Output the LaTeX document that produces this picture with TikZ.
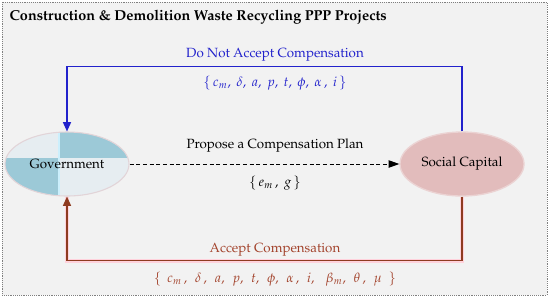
\documentclass[tikz,border=0pt]{standalone}
\usepackage[T1]{fontenc}
\usepackage{amsmath,amssymb}
\usepackage{mathpazo}
\usepackage{xcolor}
\usepackage{tikz}
\usetikzlibrary{arrows.meta,shapes.geometric}

\definecolor{bggray}{HTML}{F2F2F2}
\definecolor{framegray}{HTML}{7F7F7F}
\definecolor{govblue}{HTML}{9CC9D7}
\definecolor{govlight}{HTML}{E6EDF1}
\definecolor{govedge}{HTML}{E2D4D8}
\definecolor{socfill}{HTML}{E2BCBC}
\definecolor{socedge}{HTML}{EBD3D3}
\definecolor{rejblue}{HTML}{2222CC}
\definecolor{acctext}{HTML}{A3432C}
\definecolor{accline}{HTML}{8E3B20}
\definecolor{halopink}{HTML}{FFD2DC}

\begin{document}
\begin{tikzpicture}[
  x=0.75pt, y=-0.75pt,
  frame/.style={draw=framegray, densely dotted, fill=bggray},
  actor/.style={ellipse, minimum width=93pt, minimum height=48pt, inner sep=0pt},
  govnode/.style={actor, draw=govedge, line width=0.8pt},
  socnode/.style={actor, draw=socedge, line width=1pt, fill=socfill},
  lbl/.style={inner sep=1pt},
  rejarr/.style={-{Triangle[length=7pt, width=6pt]}, draw=rejblue, line width=1.1pt},
  accarr/.style={-{Triangle[length=7pt, width=6pt]}, draw=accline, line width=1.1pt,
                 preaction={draw=halopink, line width=3.2pt, -}},
  proparr/.style={-{Triangle[length=8pt, width=5.5pt]}, densely dashed, line width=0.7pt}
]
\useasboundingbox (0,0) rectangle (550,298);
\draw[frame] (2,2) rectangle (547,295);

\node[lbl, anchor=west, font=\fontsize{10.8}{13}\selectfont\bfseries] (title) at (8,17)
  {Construction \& Demolition Waste Recycling PPP Projects};

% government, split in four
\begin{scope}
  \clip (67,164) ellipse [x radius=46.5pt, y radius=24pt];
  \fill[govlight] (0,128) rectangle (134,200);
  \fill[govblue] (59,158) rectangle (134,128);
  \fill[govblue] (59,158) rectangle (0,200);
  \draw[white!80!cyan, line width=1pt] (59,128) -- (59,200);
\end{scope}
\node[govnode] (gov) at (67,164) {Government};
\node[socnode] (soc) at (462,164) {Social Capital};

% offers and answers
\draw[proparr] (gov) -- (soc);
\draw[rejarr] (soc.north) -- ++(0,-65) -| (gov.north);
\draw[accarr] (soc.south) -- ++(0,64) -| (gov.south);

\node[lbl, text=rejblue] (nolbl) at (275,55) {Do Not Accept Compensation};
\node[lbl, text=rejblue] (noset) at (275,83)
  {$\{\, c_m,\ \delta,\ a,\ p,\ t,\ \phi,\ \alpha\,,\ i\,\}$};
\node[lbl] (proplbl) at (275,146) {Propose a Compensation Plan};
\node[lbl] (propset) at (275,183) {$\{\, e_m\,,\ g\,\}$};
\node[lbl, text=acctext] (acclbl) at (275,250) {Accept Compensation};
\node[lbl, text=acctext] (accset) at (275,279)
  {$\{\;\, c_m\,,\ \,\delta\,,\ \,a,\ \,p,\ \,t,\ \,\phi,\ \,\alpha\,,\ \,i,\ \ \,\beta_m,\ \,\theta\,,\ \,\mu\ \;\}$};
\end{tikzpicture}
\end{document}
